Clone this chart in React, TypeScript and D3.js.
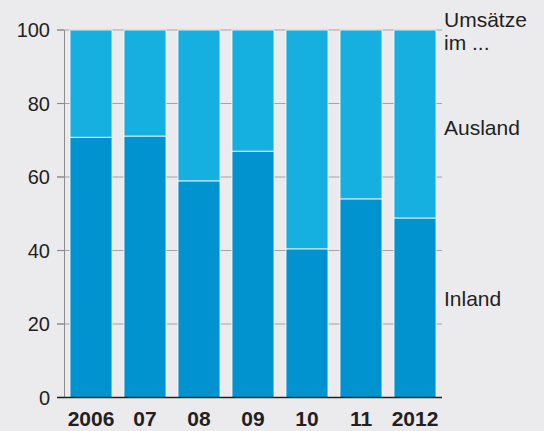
import React, { useEffect, useRef } from "react";
import * as d3 from "d3";

const years = ["2006", "07", "08", "09", "10", "11", "2012"];
const inland = [70.8, 71.1, 58.9, 67.0, 40.4, 54.0, 48.8];
const ausland = inland.map((v) => 100 - v);
const yTicks = [0, 20, 40, 60, 80, 100];

const App: React.FC = () => {
  const svgRef = useRef<SVGSVGElement | null>(null);

  useEffect(() => {
    if (!svgRef.current) return;
    const svg = d3.select(svgRef.current);
    svg.selectAll("*").remove();

    const width = 544;
    const height = 431;
    const font = "'Liberation Sans', Arial, sans-serif";

    svg.append("rect").attr("width", width).attr("height", height).attr("fill", "#ebebed");

    const x = d3.scaleBand<string>().domain(years).range([64, 442]).paddingInner(0.222).paddingOuter(0.111);
    const y = d3.scaleLinear().domain([0, 100]).range([397.5, 30]);

    // grid lines (behind bars)
    svg
      .append("g")
      .selectAll("line")
      .data(yTicks.filter((t) => t > 0))
      .join("line")
      .attr("x1", 57)
      .attr("x2", 442)
      .attr("y1", (d) => y(d))
      .attr("y2", (d) => y(d))
      .attr("stroke", "#a3a3a5")
      .attr("stroke-width", 1.2);

    const stack = years.map((yr, i) => ({ yr, inl: inland[i], aus: ausland[i] }));

    const g = svg.append("g");
    g.selectAll("rect.aus")
      .data(stack)
      .join("rect")
      .attr("class", "aus")
      .attr("x", (d) => x(d.yr)!)
      .attr("width", x.bandwidth())
      .attr("y", y(100))
      .attr("height", (d) => y(d.inl) - y(100))
      .attr("fill", "#15afe0")
      .attr("stroke", "#ffffff")
      .attr("stroke-width", 0.8);

    g.selectAll("rect.inl")
      .data(stack)
      .join("rect")
      .attr("class", "inl")
      .attr("x", (d) => x(d.yr)!)
      .attr("width", x.bandwidth())
      .attr("y", (d) => y(d.inl))
      .attr("height", (d) => y(0) - y(d.inl))
      .attr("fill", "#0093cf")
      .attr("stroke", "#ffffff")
      .attr("stroke-width", 0.8);

    // y axis line
    svg
      .append("line")
      .attr("x1", 64.5)
      .attr("x2", 64.5)
      .attr("y1", y(100))
      .attr("y2", y(0))
      .attr("stroke", "#8c8c8c")
      .attr("stroke-width", 1);

    // tick marks left of axis
    svg
      .append("g")
      .selectAll("line")
      .data(yTicks)
      .join("line")
      .attr("x1", 57)
      .attr("x2", 64)
      .attr("y1", (d) => y(d))
      .attr("y2", (d) => y(d))
      .attr("stroke", "#8c8c8c")
      .attr("stroke-width", 1.2);

    // baseline
    svg
      .append("line")
      .attr("x1", 57)
      .attr("x2", 442)
      .attr("y1", y(0))
      .attr("y2", y(0))
      .attr("stroke", "#222")
      .attr("stroke-width", 1.5);

    svg
      .append("g")
      .selectAll("text")
      .data(yTicks)
      .join("text")
      .attr("x", 50)
      .attr("y", (d) => y(d))
      .attr("dy", "0.36em")
      .attr("text-anchor", "end")
      .attr("font-family", font)
      .attr("font-size", 20)
      .attr("fill", "#231f20")
      .text((d) => d);

    svg
      .append("g")
      .selectAll("text")
      .data(years)
      .join("text")
      .attr("x", (d) => x(d)! + x.bandwidth() / 2)
      .attr("y", 426)
      .attr("text-anchor", "middle")
      .attr("font-family", font)
      .attr("font-size", 21)
      .attr("font-weight", "bold")
      .attr("fill", "#231f20")
      .text((d) => d);

    const labels = [
      { t: "Umsätze", yy: 27 },
      { t: "im ...", yy: 50 },
      { t: "Ausland", yy: 135 },
      { t: "Inland", yy: 306 },
    ];
    svg
      .append("g")
      .selectAll("text")
      .data(labels)
      .join("text")
      .attr("x", 444)
      .attr("y", (d) => d.yy)
      .attr("font-family", font)
      .attr("font-size", 21)
      .attr("fill", "#231f20")
      .text((d) => d.t);
  }, []);

  return (
    <svg
      ref={svgRef}
      width={544}
      height={431}
      style={{ position: "absolute", left: 0, top: 0, display: "block" }}
    />
  );
};

export default App;
